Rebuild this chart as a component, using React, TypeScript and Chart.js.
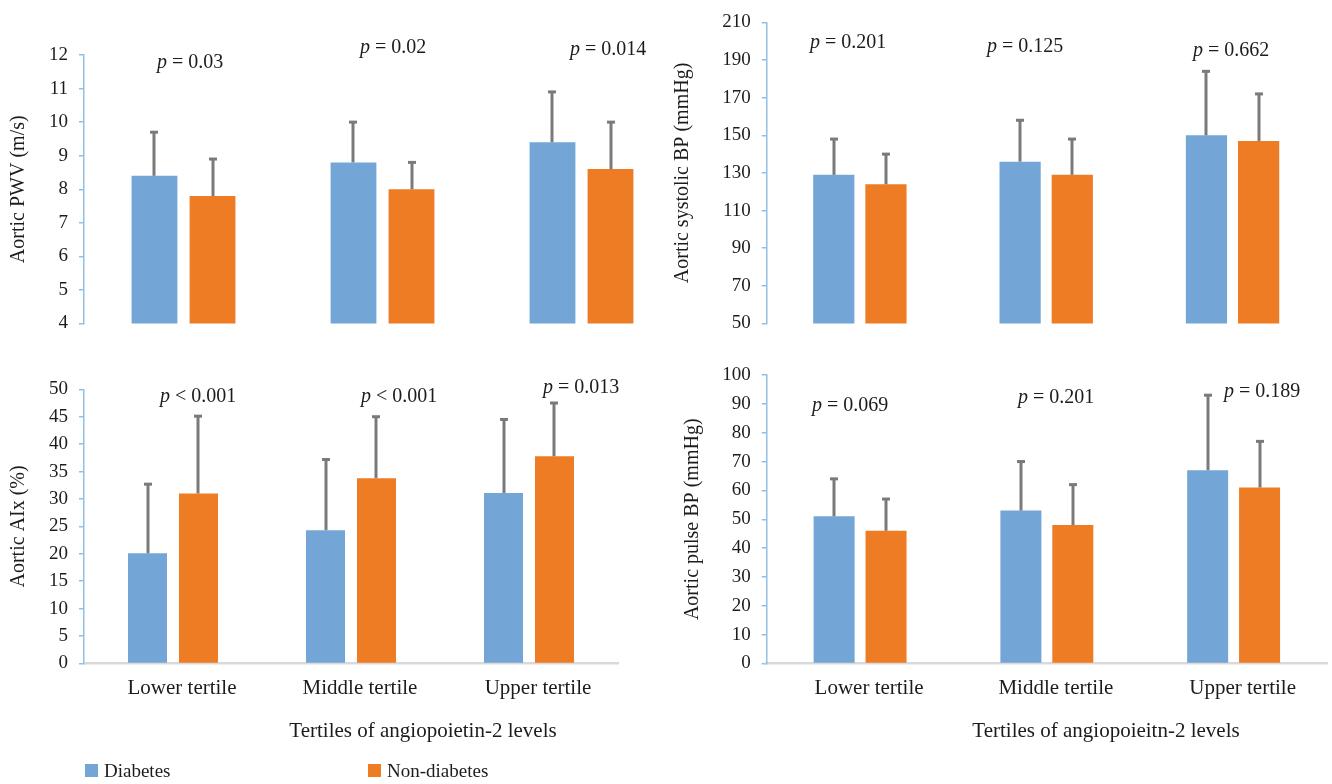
import React, { useEffect, useRef } from 'react';
import { Chart, registerables } from 'chart.js';

Chart.register(...registerables);

// ---------- data ----------
const categories = ['Lower tertile', 'Middle tertile', 'Upper tertile'];
const seriesNames = ['Diabetes', 'Non-diabetes'];

const pwvDiabetes = [8.4, 8.8, 9.4];
const pwvDiabetesSD = [1.3, 1.2, 1.5];
const pwvNonDiabetes = [7.8, 8.0, 8.6];
const pwvNonDiabetesSD = [1.1, 0.8, 1.4];
const pwvPValues = ['p = 0.03', 'p = 0.02', 'p = 0.014'];

const sbpDiabetes = [129, 136, 150];
const sbpDiabetesSD = [19, 22, 34];
const sbpNonDiabetes = [124, 129, 147];
const sbpNonDiabetesSD = [16, 19, 25];
const sbpPValues = ['p = 0.201', 'p = 0.125', 'p = 0.662'];

const aixDiabetes = [20.1, 24.3, 31.1];
const aixDiabetesSD = [12.6, 12.9, 13.4];
const aixNonDiabetes = [31.0, 33.8, 37.8];
const aixNonDiabetesSD = [14.1, 11.2, 9.7];
const aixPValues = ['p < 0.001', 'p < 0.001', 'p = 0.013'];

const ppDiabetes = [51, 53, 67];
const ppDiabetesSD = [13, 17, 26];
const ppNonDiabetes = [46, 48, 61];
const ppNonDiabetesSD = [11, 14, 16];
const ppPValues = ['p = 0.069', 'p = 0.201', 'p = 0.189'];

const xTitleLeft = 'Tertiles of angiopoietin-2 levels';
const xTitleRight = 'Tertiles of angiopoieitn-2 levels';

// ---------- styles ----------
const W = 1332;
const H = 784;
const FONT = "'Liberation Serif', 'DejaVu Serif', serif";
const BLUE = '#73a6d6';
const ORANGE = '#ee7c25';
const AXIS_BLUE = '#92bfe6';
const TEXT = '#1c1c1c';
const ERR = '#7a7a7a';

type Ann = { text: string; x: number; y: number; align?: 'left' | 'center' };

type Panel = {
  diab: number[];
  diabSD: number[];
  non: number[];
  nonSD: number[];
  yMin: number;
  yMax: number;
  yStep: number;
  yTitle: string;
  yTitlePad: number;
  yWidth: number;
  padding: { left: number; top: number; right: number; bottom: number };
  showX: boolean;
  catPct: number;
  barPct: number;
  pLabels: string[];
  pPos: { x: number; y: number }[];
  extra?: Ann[];
  legend?: boolean;
};

const panels: Panel[] = [
  {
    diab: pwvDiabetes, diabSD: pwvDiabetesSD, non: pwvNonDiabetes, nonSD: pwvNonDiabetesSD,
    yMin: 4, yMax: 12, yStep: 1, yTitle: 'Aortic PWV (m/s)', yTitlePad: 7, yWidth: 84,
    padding: { left: 0, top: 55, right: W - 681, bottom: H - 323.5 },
    showX: false, catPct: 0.583, barPct: 0.79,
    pLabels: pwvPValues,
    pPos: [{ x: 157, y: 63 }, { x: 360, y: 48 }, { x: 570, y: 50 }],
  },
  {
    diab: sbpDiabetes, diabSD: sbpDiabetesSD, non: sbpNonDiabetes, nonSD: sbpNonDiabetesSD,
    yMin: 50, yMax: 210, yStep: 20, yTitle: 'Aortic systolic BP (mmHg)', yTitlePad: 11, yWidth: 106.7,
    padding: { left: 660, top: 18.3, right: W - 1325.7, bottom: H - 323.5 },
    showX: false, catPct: 0.56, barPct: 0.79,
    pLabels: sbpPValues,
    pPos: [{ x: 810, y: 43 }, { x: 987, y: 47 }, { x: 1193, y: 51 }],
  },
  {
    diab: aixDiabetes, diabSD: aixDiabetesSD, non: aixNonDiabetes, nonSD: aixNonDiabetesSD,
    yMin: 0, yMax: 50, yStep: 5, yTitle: 'Aortic AIx (%)', yTitlePad: 7, yWidth: 84,
    padding: { left: 0, top: 389.3, right: W - 618, bottom: H - 663.5 - 60 },
    showX: true, catPct: 0.573, barPct: 0.765,
    pLabels: aixPValues,
    pPos: [{ x: 160, y: 397 }, { x: 361, y: 397 }, { x: 543, y: 388 }],
    extra: [{ text: xTitleLeft, x: 423, y: 731, align: 'center' }],
    legend: true,
  },
  {
    diab: ppDiabetes, diabSD: ppDiabetesSD, non: ppNonDiabetes, nonSD: ppNonDiabetesSD,
    yMin: 0, yMax: 100, yStep: 10, yTitle: 'Aortic pulse BP (mmHg)', yTitlePad: 21, yWidth: 106.7,
    padding: { left: 660, top: 375, right: W - 1327, bottom: H - 663.5 - 60 },
    showX: true, catPct: 0.556, barPct: 0.79,
    pLabels: ppPValues,
    pPos: [{ x: 812, y: 406 }, { x: 1018, y: 398 }, { x: 1224, y: 392 }],
    extra: [{ text: xTitleRight, x: 1106, y: 731, align: 'center' }],
  },
];

const errorBarPlugin = {
  id: 'errorBars',
  afterDatasetsDraw(chart: any) {
    const ctx = chart.ctx;
    const yScale = chart.scales.y;
    ctx.save();
    ctx.strokeStyle = ERR;
    ctx.fillStyle = ERR;
    ctx.lineWidth = 3;
    chart.data.datasets.forEach((ds: any, di: number) => {
      const meta = chart.getDatasetMeta(di);
      meta.data.forEach((bar: any, i: number) => {
        const v = ds.data[i];
        const top = yScale.getPixelForValue(v + ds.sd[i]);
        const x = Math.round(bar.x);
        ctx.beginPath();
        ctx.moveTo(x, bar.y);
        ctx.lineTo(x, top);
        ctx.stroke();
        ctx.fillRect(x - 4, top - 1.5, 8, 3);
      });
    });
    ctx.restore();
  },
};

function drawPLabel(ctx: CanvasRenderingContext2D, text: string, x: number, y: number) {
  const first = text.slice(0, 1);
  const rest = text.slice(1);
  ctx.textBaseline = 'middle';
  ctx.textAlign = 'left';
  ctx.font = `italic 20px ${FONT}`;
  ctx.fillText(first, x, y);
  const w = ctx.measureText(first).width;
  ctx.font = `20px ${FONT}`;
  ctx.fillText(rest, x + w, y);
}

function textPlugin(panel: Panel) {
  return {
    id: 'texts',
    afterDraw(chart: any) {
      const ctx = chart.ctx;
      ctx.save();
      ctx.fillStyle = TEXT;
      panel.pLabels.forEach((t, i) => drawPLabel(ctx, t, panel.pPos[i].x, panel.pPos[i].y));
      (panel.extra || []).forEach((a) => {
        ctx.font = `21px ${FONT}`;
        ctx.textAlign = a.align || 'left';
        ctx.textBaseline = 'middle';
        ctx.fillText(a.text, a.x, a.y);
      });
      if (panel.legend) {
        const items = [
          { name: seriesNames[0], color: BLUE, x: 85 },
          { name: seriesNames[1], color: ORANGE, x: 368 },
        ];
        items.forEach((it) => {
          ctx.fillStyle = it.color;
          ctx.fillRect(it.x, 764, 13, 13);
          ctx.fillStyle = TEXT;
          ctx.font = `19px ${FONT}`;
          ctx.textAlign = 'left';
          ctx.textBaseline = 'middle';
          ctx.fillText(it.name, it.x + 19, 772);
        });
      }
      ctx.restore();
    },
  };
}

function makeChart(canvas: HTMLCanvasElement, p: Panel) {
  const mk = (label: string, data: number[], sd: number[], color: string) => ({
    label,
    data,
    sd,
    backgroundColor: color,
    borderWidth: 0,
    categoryPercentage: p.catPct,
    barPercentage: p.barPct,
  });
  return new Chart(canvas, {
    type: 'bar',
    data: {
      labels: categories,
      datasets: [
        mk(seriesNames[0], p.diab, p.diabSD, BLUE),
        mk(seriesNames[1], p.non, p.nonSD, ORANGE),
      ] as any,
    },
    options: {
      responsive: false,
      animation: false,
      devicePixelRatio: 1,
      layout: { padding: p.padding },
      plugins: { legend: { display: false }, tooltip: { enabled: false } },
      scales: {
        x: {
          display: p.showX,
          grid: { display: false, drawTicks: false },
          border: { display: true, color: '#d9d9d9', width: 2.5 },
          ticks: { font: { family: FONT, size: 21 }, color: TEXT, padding: 12, labelOffset: 9 },
          afterFit: (s: any) => { s.height = p.showX ? 60 : 0; },
        },
        y: {
          min: p.yMin,
          max: p.yMax,
          ticks: { stepSize: p.yStep, font: { family: FONT, size: 19 }, color: TEXT, padding: 11 },
          grid: { drawOnChartArea: false, drawTicks: true, tickLength: 5, color: AXIS_BLUE, lineWidth: 1.5 },
          border: { color: AXIS_BLUE, width: 1.5 },
          title: { display: true, text: p.yTitle, font: { family: FONT, size: 20 }, color: TEXT, padding: { top: p.yTitlePad, bottom: 0 } },
          afterFit: (s: any) => { s.width = p.yWidth; },
        },
      },
    } as any,
    plugins: [errorBarPlugin, textPlugin(p)],
  });
}

function PanelCanvas({ panel }: { panel: Panel }) {
  const ref = useRef<HTMLCanvasElement | null>(null);
  useEffect(() => {
    if (!ref.current) return;
    const chart = makeChart(ref.current, panel);
    return () => chart.destroy();
  }, [panel]);
  return (
    <canvas
      ref={ref}
      width={W}
      height={H}
      style={{ position: 'absolute', left: 0, top: 0, width: W, height: H }}
    />
  );
}

export default function App() {
  return (
    <div style={{ position: 'absolute', left: 0, top: 0, width: W, height: H, background: '#ffffff' }}>
      {panels.map((p, i) => (
        <PanelCanvas key={i} panel={p} />
      ))}
    </div>
  );
}
